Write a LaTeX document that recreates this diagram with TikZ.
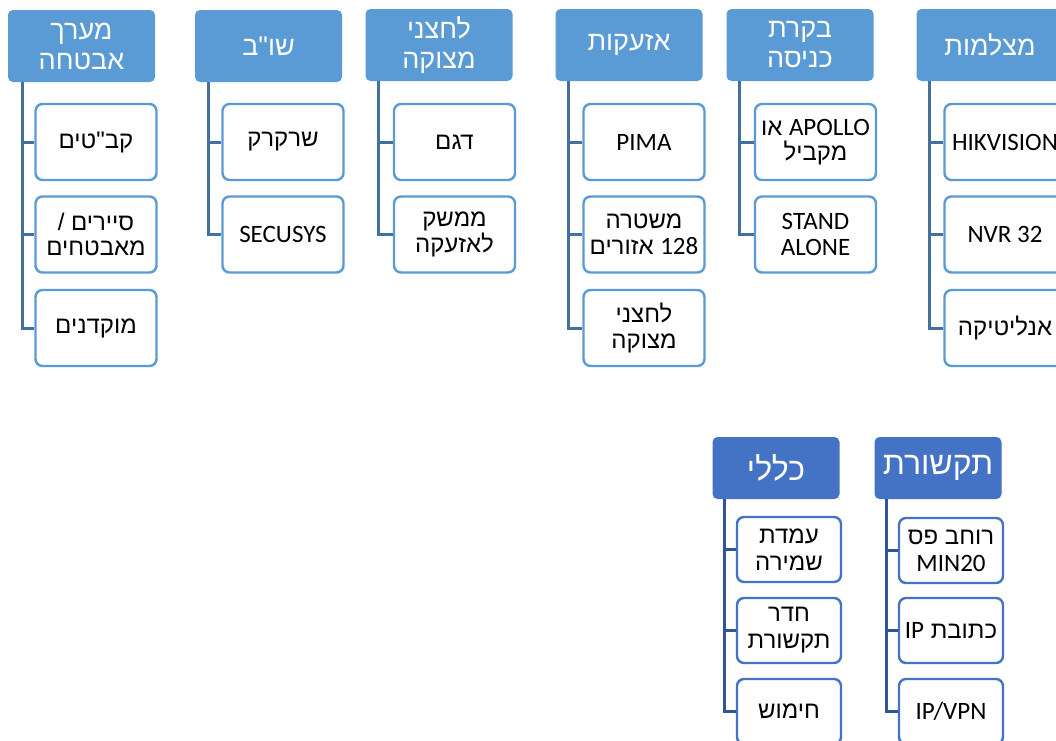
\documentclass[tikz,border=0pt]{standalone}
\usepackage{fontspec}
\setmainfont[Script=Hebrew,Ligatures=TeXOff]{Liberation Sans}
\newfontfamily\latfont{Carlito}
\TeXXeTstate=1
\definecolor{hdrA}{HTML}{5B9BD5}
\definecolor{lineA}{HTML}{41719C}
\definecolor{hdrB}{HTML}{4472C4}
\definecolor{lineB}{HTML}{2F5597}
\newcommand{\hebR}[1]{\beginR #1\endR}
\newcommand{\latL}[1]{\beginL{\latfont #1}\endL}
\tikzset{
  hdrtop/.style={fill=hdrA, rounded corners=5pt, minimum width=147pt, minimum height=72pt,
    text=white, font=\fontsize{27}{30}\selectfont, align=center, inner sep=0pt},
  chtop/.style={draw=hdrA, line width=2.4pt, fill=white, rounded corners=7pt,
    minimum width=121pt, minimum height=76pt, font=\fontsize{24}{25.5}\selectfont,
    align=center, inner sep=0pt},
  hdrbot/.style={fill=hdrB, rounded corners=5pt, minimum width=127pt, minimum height=62pt,
    text=white, font=\fontsize{32}{36}\selectfont, align=center, inner sep=0pt},
  chbot/.style={draw=hdrB, line width=2.4pt, fill=white, rounded corners=7pt,
    minimum width=104pt, minimum height=65pt, font=\fontsize{24}{27}\selectfont,
    align=center, inner sep=0pt},
  conA/.style={draw=lineA, line width=3pt},
  conB/.style={draw=lineB, line width=3pt},
  latn/.style={font=\latfont\fontsize{25}{26.5}\selectfont}
}
\begin{document}
\begin{tikzpicture}[x=1pt,y=-1pt]
\clip (0,0) rectangle (1056,740);
\fill[white] (0,0) rectangle (1056,740);
% ---------- column 1
\node[hdrtop] (h1) at (81.5,46) {\hebR{מערך}\\\hebR{אבטחה}};
\node[chtop] (c1a) at (96,142) {\hebR{קב"טים}};
\node[chtop] (c1b) at (96,234.5) {\hebR{סיירים /}\\\hebR{מאבטחים}};
\node[chtop] (c1c) at (96,328) {\hebR{מוקדנים}};
% ---------- column 2
\node[hdrtop] (h2) at (268.5,46) {\hebR{שו"ב}};
\node[chtop] (c2a) at (283,142) {\hebR{שרקרק}};
\node[chtop,latn] (c2b) at (283,234.5) {SECUSYS};
% ---------- column 3
\node[hdrtop] (h3) at (439,45) {\hebR{לחצני}\\\hebR{מצוקה}};
\node[chtop] (c3a) at (454.5,142) {\hebR{דגם}};
\node[chtop] (c3b) at (454.5,234.5) {\hebR{ממשק}\\\hebR{לאזעקה}};
% ---------- column 4
\node[hdrtop] (h4) at (629,45) {\hebR{אזעקות}};
\node[chtop,latn] (c4a) at (644,142) {PIMA};
\node[chtop] (c4b) at (644,234.5) {\hebR{משטרה}\\\hebR{\latL{\fontsize{25}{26}\selectfont 128} אזורים}};
\node[chtop] (c4c) at (644,328) {\hebR{לחצני}\\\hebR{מצוקה}};
% ---------- column 5
\node[hdrtop] (h5) at (800,45) {\hebR{בקרת}\\\hebR{כניסה}};
\node[chtop] (c5a) at (815.5,142) {\hebR{\latL{\fontsize{25}{26}\selectfont APOLLO} או}\\\hebR{מקביל}};
\node[chtop,latn] (c5b) at (815.5,234.5) {STAND\\ALONE};
% ---------- column 6
\node[hdrtop] (h6) at (990,45) {\hebR{מצלמות}};
\node[chtop,latn] (c6a) at (1005,142) {HIKVISION};
\node[chtop,latn] (c6b) at (1005,234.5) {NVR 32};
\node[chtop] (c6c) at (1005,328) {\hebR{אנליטיקה}};
% ---------- bottom column 7
\node[hdrbot] (h7) at (776,468) {\hebR{כללי}};
\node[chbot] (c7a) at (789,549.5) {\hebR{עמדת}\\\hebR{שמירה}};
\node[chbot] (c7b) at (789,630.5) {\hebR{חדר}\\\hebR{תקשורת}};
\node[chbot] (c7c) at (789,711.5) {\hebR{חימוש}};
% ---------- bottom column 8
\node[hdrbot] (h8) at (938,468) {\hebR{תקשורת}};
\node[chbot] (c8a) at (951,550.5) {\hebR{רוחב פס}\\{\latfont\fontsize{25}{26}\selectfont MIN20}};
\node[chbot] (c8b) at (951,630.5) {\hebR{כתובת \latL{\fontsize{25}{26}\selectfont IP}}};
\node[chbot,latn] (c8c) at (951,711.5) {IP/VPN};
% ---------- connector roots
\coordinate (r1) at (h1.south -| 22,0);
\coordinate (r2) at (h2.south -| 208,0);
\coordinate (r3) at (h3.south -| 378,0);
\coordinate (r4) at (h4.south -| 568,0);
\coordinate (r5) at (h5.south -| 739,0);
\coordinate (r6) at (h6.south -| 929,0);
\coordinate (r7) at (h7.south -| 724,0);
\coordinate (r8) at (h8.south -| 886,0);
\draw[conA] (r1) |- (c1a.west); \draw[conA] (r1) |- (c1b.west); \draw[conA] (r1) |- (c1c.west);
\draw[conA] (r2) |- (c2a.west); \draw[conA] (r2) |- (c2b.west);
\draw[conA] (r3) |- (c3a.west); \draw[conA] (r3) |- (c3b.west);
\draw[conA] (r4) |- (c4a.west); \draw[conA] (r4) |- (c4b.west); \draw[conA] (r4) |- (c4c.west);
\draw[conA] (r5) |- (c5a.west); \draw[conA] (r5) |- (c5b.west);
\draw[conA] (r6) |- (c6a.west); \draw[conA] (r6) |- (c6b.west); \draw[conA] (r6) |- (c6c.west);
\draw[conB] (r7) |- (c7a.west); \draw[conB] (r7) |- (c7b.west); \draw[conB] (r7) |- (c7c.west);
\draw[conB] (r8) |- (c8a.west); \draw[conB] (r8) |- (c8b.west); \draw[conB] (r8) |- (c8c.west);
\end{tikzpicture}
\end{document}
